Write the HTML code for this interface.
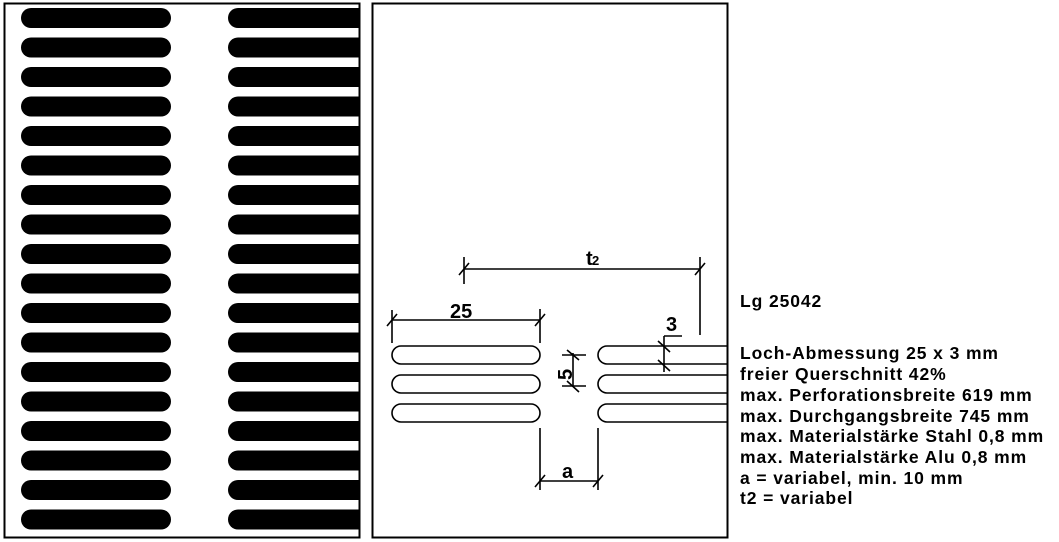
<!DOCTYPE html>
<html><head><style>
body{margin:0;background:#fff;width:1059px;height:542px;overflow:hidden}
svg{display:block}
text{font-family:"Liberation Sans",Arial,sans-serif;fill:#000}
</style></head><body>
<svg width="1059" height="542" viewBox="0 0 1059 542">
<defs>
<clipPath id="cl"><rect x="5" y="4" width="354" height="533"/></clipPath>
<clipPath id="cr"><rect x="373" y="4" width="354" height="533"/></clipPath>
</defs>
<rect x="4.5" y="3.5" width="355" height="534" fill="none" stroke="#000" stroke-width="2"/>
<rect x="372.5" y="3.5" width="355" height="534" fill="none" stroke="#000" stroke-width="2"/>
<g fill="none" stroke="#000" stroke-width="1.6">
<rect x="392" y="346" width="148" height="18" rx="9"/>
<rect x="392" y="375" width="148" height="18" rx="9"/>
<rect x="392" y="404" width="148" height="18" rx="9"/>
<g clip-path="url(#cr)">
<rect x="598" y="346" width="160" height="18" rx="9"/>
<rect x="598" y="375" width="160" height="18" rx="9"/>
<rect x="598" y="404" width="160" height="18" rx="9"/>
</g>
<line x1="464" y1="269" x2="700" y2="269"/>
<line x1="464" y1="257" x2="464" y2="284"/>
<line x1="700" y1="257" x2="700" y2="335"/>
<line x1="459" y1="275" x2="469" y2="263"/><line x1="695" y1="275" x2="705" y2="263"/>
<line x1="392" y1="320" x2="540" y2="320"/>
<line x1="392" y1="310" x2="392" y2="343"/>
<line x1="540" y1="309" x2="540" y2="343"/>
<line x1="387" y1="326" x2="397" y2="314"/><line x1="535" y1="326" x2="545" y2="314"/>
<line x1="573" y1="353" x2="573" y2="387"/>
<line x1="562" y1="355" x2="586" y2="355"/>
<line x1="562" y1="386" x2="586" y2="386"/>
<line x1="567" y1="350" x2="579" y2="360"/><line x1="567" y1="381" x2="579" y2="392"/>
<line x1="540" y1="428" x2="540" y2="490"/>
<line x1="598" y1="428" x2="598" y2="490"/>
<line x1="540" y1="481" x2="598" y2="481"/>
<line x1="535" y1="487" x2="545" y2="475"/><line x1="593" y1="487" x2="603" y2="475"/>
<line x1="664" y1="336" x2="664" y2="372"/>
<line x1="664" y1="336" x2="682" y2="336"/>
<line x1="658" y1="341" x2="670" y2="352"/><line x1="658" y1="360" x2="670" y2="371"/>
</g>
<g font-size="20" font-weight="bold">
<text x="586" y="265">t</text><text x="592" y="265" font-size="13">2</text>
<text x="450" y="318">25</text>
<text x="562" y="478">a</text>
<text x="666" y="331">3</text>
<text transform="translate(572,380) rotate(-90)" x="0" y="0">5</text>
</g>
<g font-size="17.5" font-weight="bold" letter-spacing="0.9">
<text x="740" y="307">Lg 25042</text>
<text x="740" y="359">Loch-Abmessung 25 x 3 mm</text>
<text x="740" y="380">freier Querschnitt 42%</text>
<text x="740" y="401">max. Perforationsbreite 619 mm</text>
<text x="740" y="422">max. Durchgangsbreite 745 mm</text>
<text x="740" y="442">max. Materialstärke Stahl 0,8 mm</text>
<text x="740" y="463">max. Materialstärke Alu 0,8 mm</text>
<text x="740" y="484">a = variabel, min. 10 mm</text>
<text x="740" y="504">t2 = variabel</text>
</g>
<g clip-path="url(#cl)" fill="#000">
<rect x="21" y="8" width="150" height="20" rx="10"/><rect x="228" y="8" width="170" height="20" rx="10"/>
<rect x="21" y="37.5" width="150" height="20" rx="10"/><rect x="228" y="37.5" width="170" height="20" rx="10"/>
<rect x="21" y="67" width="150" height="20" rx="10"/><rect x="228" y="67" width="170" height="20" rx="10"/>
<rect x="21" y="96.5" width="150" height="20" rx="10"/><rect x="228" y="96.5" width="170" height="20" rx="10"/>
<rect x="21" y="126" width="150" height="20" rx="10"/><rect x="228" y="126" width="170" height="20" rx="10"/>
<rect x="21" y="155.5" width="150" height="20" rx="10"/><rect x="228" y="155.5" width="170" height="20" rx="10"/>
<rect x="21" y="185" width="150" height="20" rx="10"/><rect x="228" y="185" width="170" height="20" rx="10"/>
<rect x="21" y="214.5" width="150" height="20" rx="10"/><rect x="228" y="214.5" width="170" height="20" rx="10"/>
<rect x="21" y="244" width="150" height="20" rx="10"/><rect x="228" y="244" width="170" height="20" rx="10"/>
<rect x="21" y="273.5" width="150" height="20" rx="10"/><rect x="228" y="273.5" width="170" height="20" rx="10"/>
<rect x="21" y="303" width="150" height="20" rx="10"/><rect x="228" y="303" width="170" height="20" rx="10"/>
<rect x="21" y="332.5" width="150" height="20" rx="10"/><rect x="228" y="332.5" width="170" height="20" rx="10"/>
<rect x="21" y="362" width="150" height="20" rx="10"/><rect x="228" y="362" width="170" height="20" rx="10"/>
<rect x="21" y="391.5" width="150" height="20" rx="10"/><rect x="228" y="391.5" width="170" height="20" rx="10"/>
<rect x="21" y="421" width="150" height="20" rx="10"/><rect x="228" y="421" width="170" height="20" rx="10"/>
<rect x="21" y="450.5" width="150" height="20" rx="10"/><rect x="228" y="450.5" width="170" height="20" rx="10"/>
<rect x="21" y="480" width="150" height="20" rx="10"/><rect x="228" y="480" width="170" height="20" rx="10"/>
<rect x="21" y="509.5" width="150" height="20" rx="10"/><rect x="228" y="509.5" width="170" height="20" rx="10"/>
</g>
</svg>
</body></html>
